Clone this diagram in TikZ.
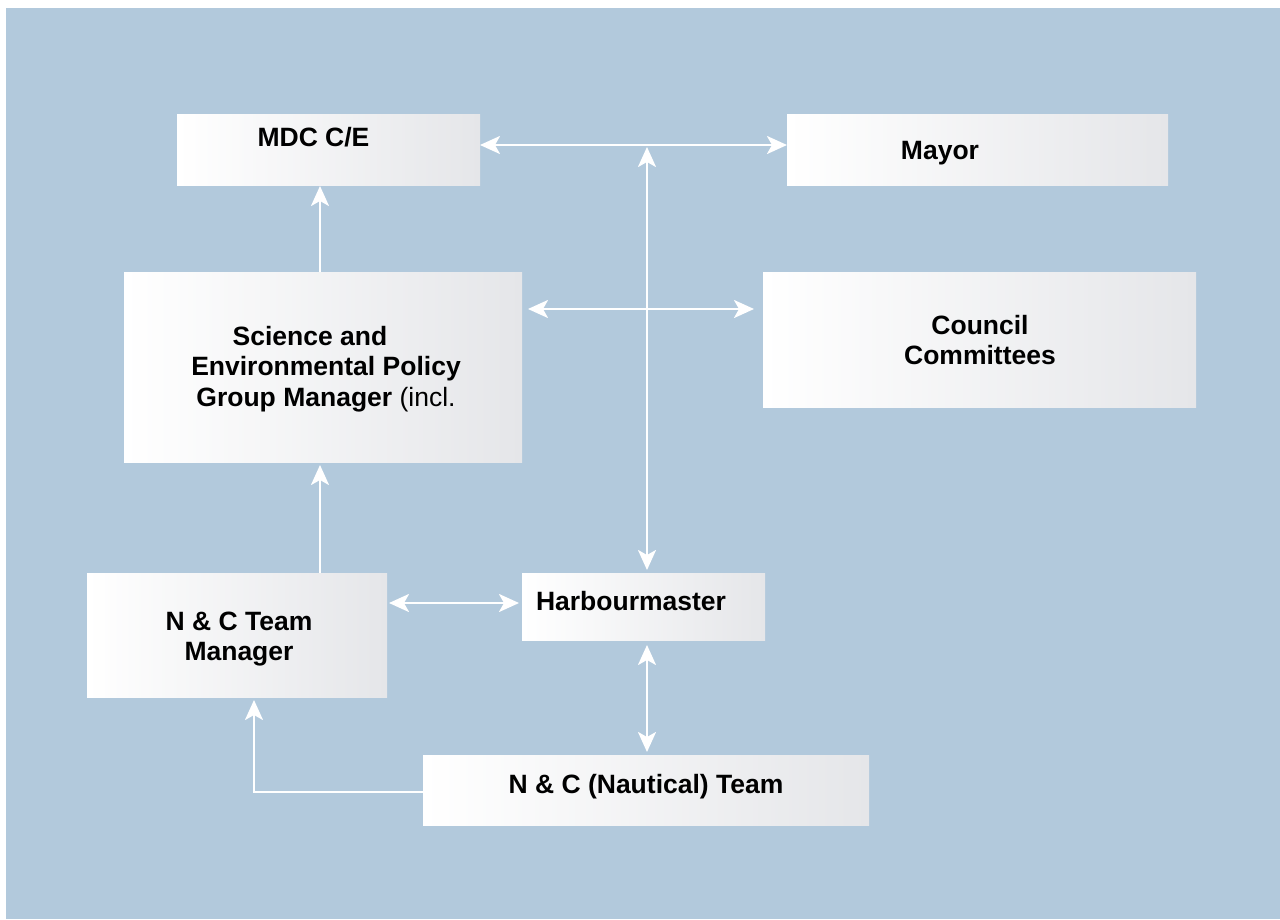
\documentclass[tikz,border=0pt]{standalone}
\usepackage{fontspec}
\setmainfont{Liberation Sans}
\usetikzlibrary{arrows.meta}
\definecolor{bgblue}{RGB}{178,201,220}
\definecolor{boxgrey}{RGB}{229,230,233}
\begin{document}
\begin{tikzpicture}[x=1pt,y=-1pt,
  box/.style={rectangle, inner sep=0pt, outer sep=0pt, left color=white, right color=boxgrey},
  lbl/.style={anchor=base, inner sep=0pt, outer sep=0pt, font=\bfseries\fontsize{26.5}{30.5}\selectfont},
  conn/.style={draw=white, line width=2.5pt, -{Stealth[length=20pt,width=18pt,inset=5pt]}},
  conntwo/.style={draw=white, line width=2.5pt, {Stealth[length=20pt,width=18pt,inset=5pt]}-{Stealth[length=20pt,width=18pt,inset=5pt]}}]
\useasboundingbox (0,0) rectangle (1280,919);
\fill[white] (0,0) rectangle (1280,919);
\fill[bgblue] (6,8) rectangle (1280,919);

% boxes
\node[box, minimum width=303pt, minimum height=71pt] (mdc) at (328.5,149.5) {};
\node[box, minimum width=381pt, minimum height=71pt] (mayor) at (977.5,149.5) {};
\node[box, minimum width=398pt, minimum height=190pt] (sci) at (323,367) {};
\node[box, minimum width=433pt, minimum height=135pt] (council) at (979.5,339.5) {};
\node[box, minimum width=300pt, minimum height=124pt] (tm) at (237,635) {};
\node[box, minimum width=243pt, minimum height=67pt] (harb) at (643.5,606.5) {};
\node[box, minimum width=446pt, minimum height=70pt] (nct) at (646,790) {};

% labels
\node[lbl] (mdc-t) at (313.5,146) {MDC C/E};
\node[lbl] (mayor-t) at (940,159) {Mayor};
\node[lbl] (sci-t) at (326,345) {\begin{tabular}[t]{@{}c@{}}Science and\hspace*{32pt}\\Environmental Policy\\Group Manager \mdseries(incl.\end{tabular}};
\node[lbl] (council-t) at (980,334) {\begin{tabular}[t]{@{}c@{}}Council\\Committees\end{tabular}};
\node[lbl] (tm-t) at (239,630) {\begin{tabular}[t]{@{}c@{}}N \& C Team\\Manager\end{tabular}};
\node[lbl] (harb-t) at (631,610) {Harbourmaster};
\node[lbl] (nct-t) at (646,793) {N \& C (Nautical) Team};

% helper coordinates
\coordinate (ytop) at (0,145);
\coordinate (vtop) at (647,147);
\coordinate (ysc) at (0,309);
\coordinate (ytm) at (0,603);
\coordinate (xv) at (647,0);
\coordinate (xa) at (320,0);
\coordinate (xb) at (254,0);
\coordinate (yb) at (0,792);

% connectors
\draw[conntwo] (mdc.east |- ytop) -- (mayor.west |- ytop);
\draw[conntwo, shorten >=3pt] (vtop) -- (vtop |- harb.north);
\draw[conntwo, shorten <=6pt, shorten >=9pt] (sci.east |- ysc) -- (council.west |- ysc);
\draw[conn, shorten >=1pt] (sci.north -| xa) -- (mdc.south -| xa);
\draw[conn, shorten >=3pt] (tm.north -| xa) -- (sci.south -| xa);
\draw[conntwo, shorten <=2pt, shorten >=3pt] (tm.east |- ytm) -- (harb.west |- ytm);
\draw[conntwo, shorten <=5pt, shorten >=3pt] (harb.south -| xv) -- (nct.north -| xv);
\draw[conn, shorten >=3pt] (nct.west |- yb) -| (tm.south -| xb);
\end{tikzpicture}
\end{document}
